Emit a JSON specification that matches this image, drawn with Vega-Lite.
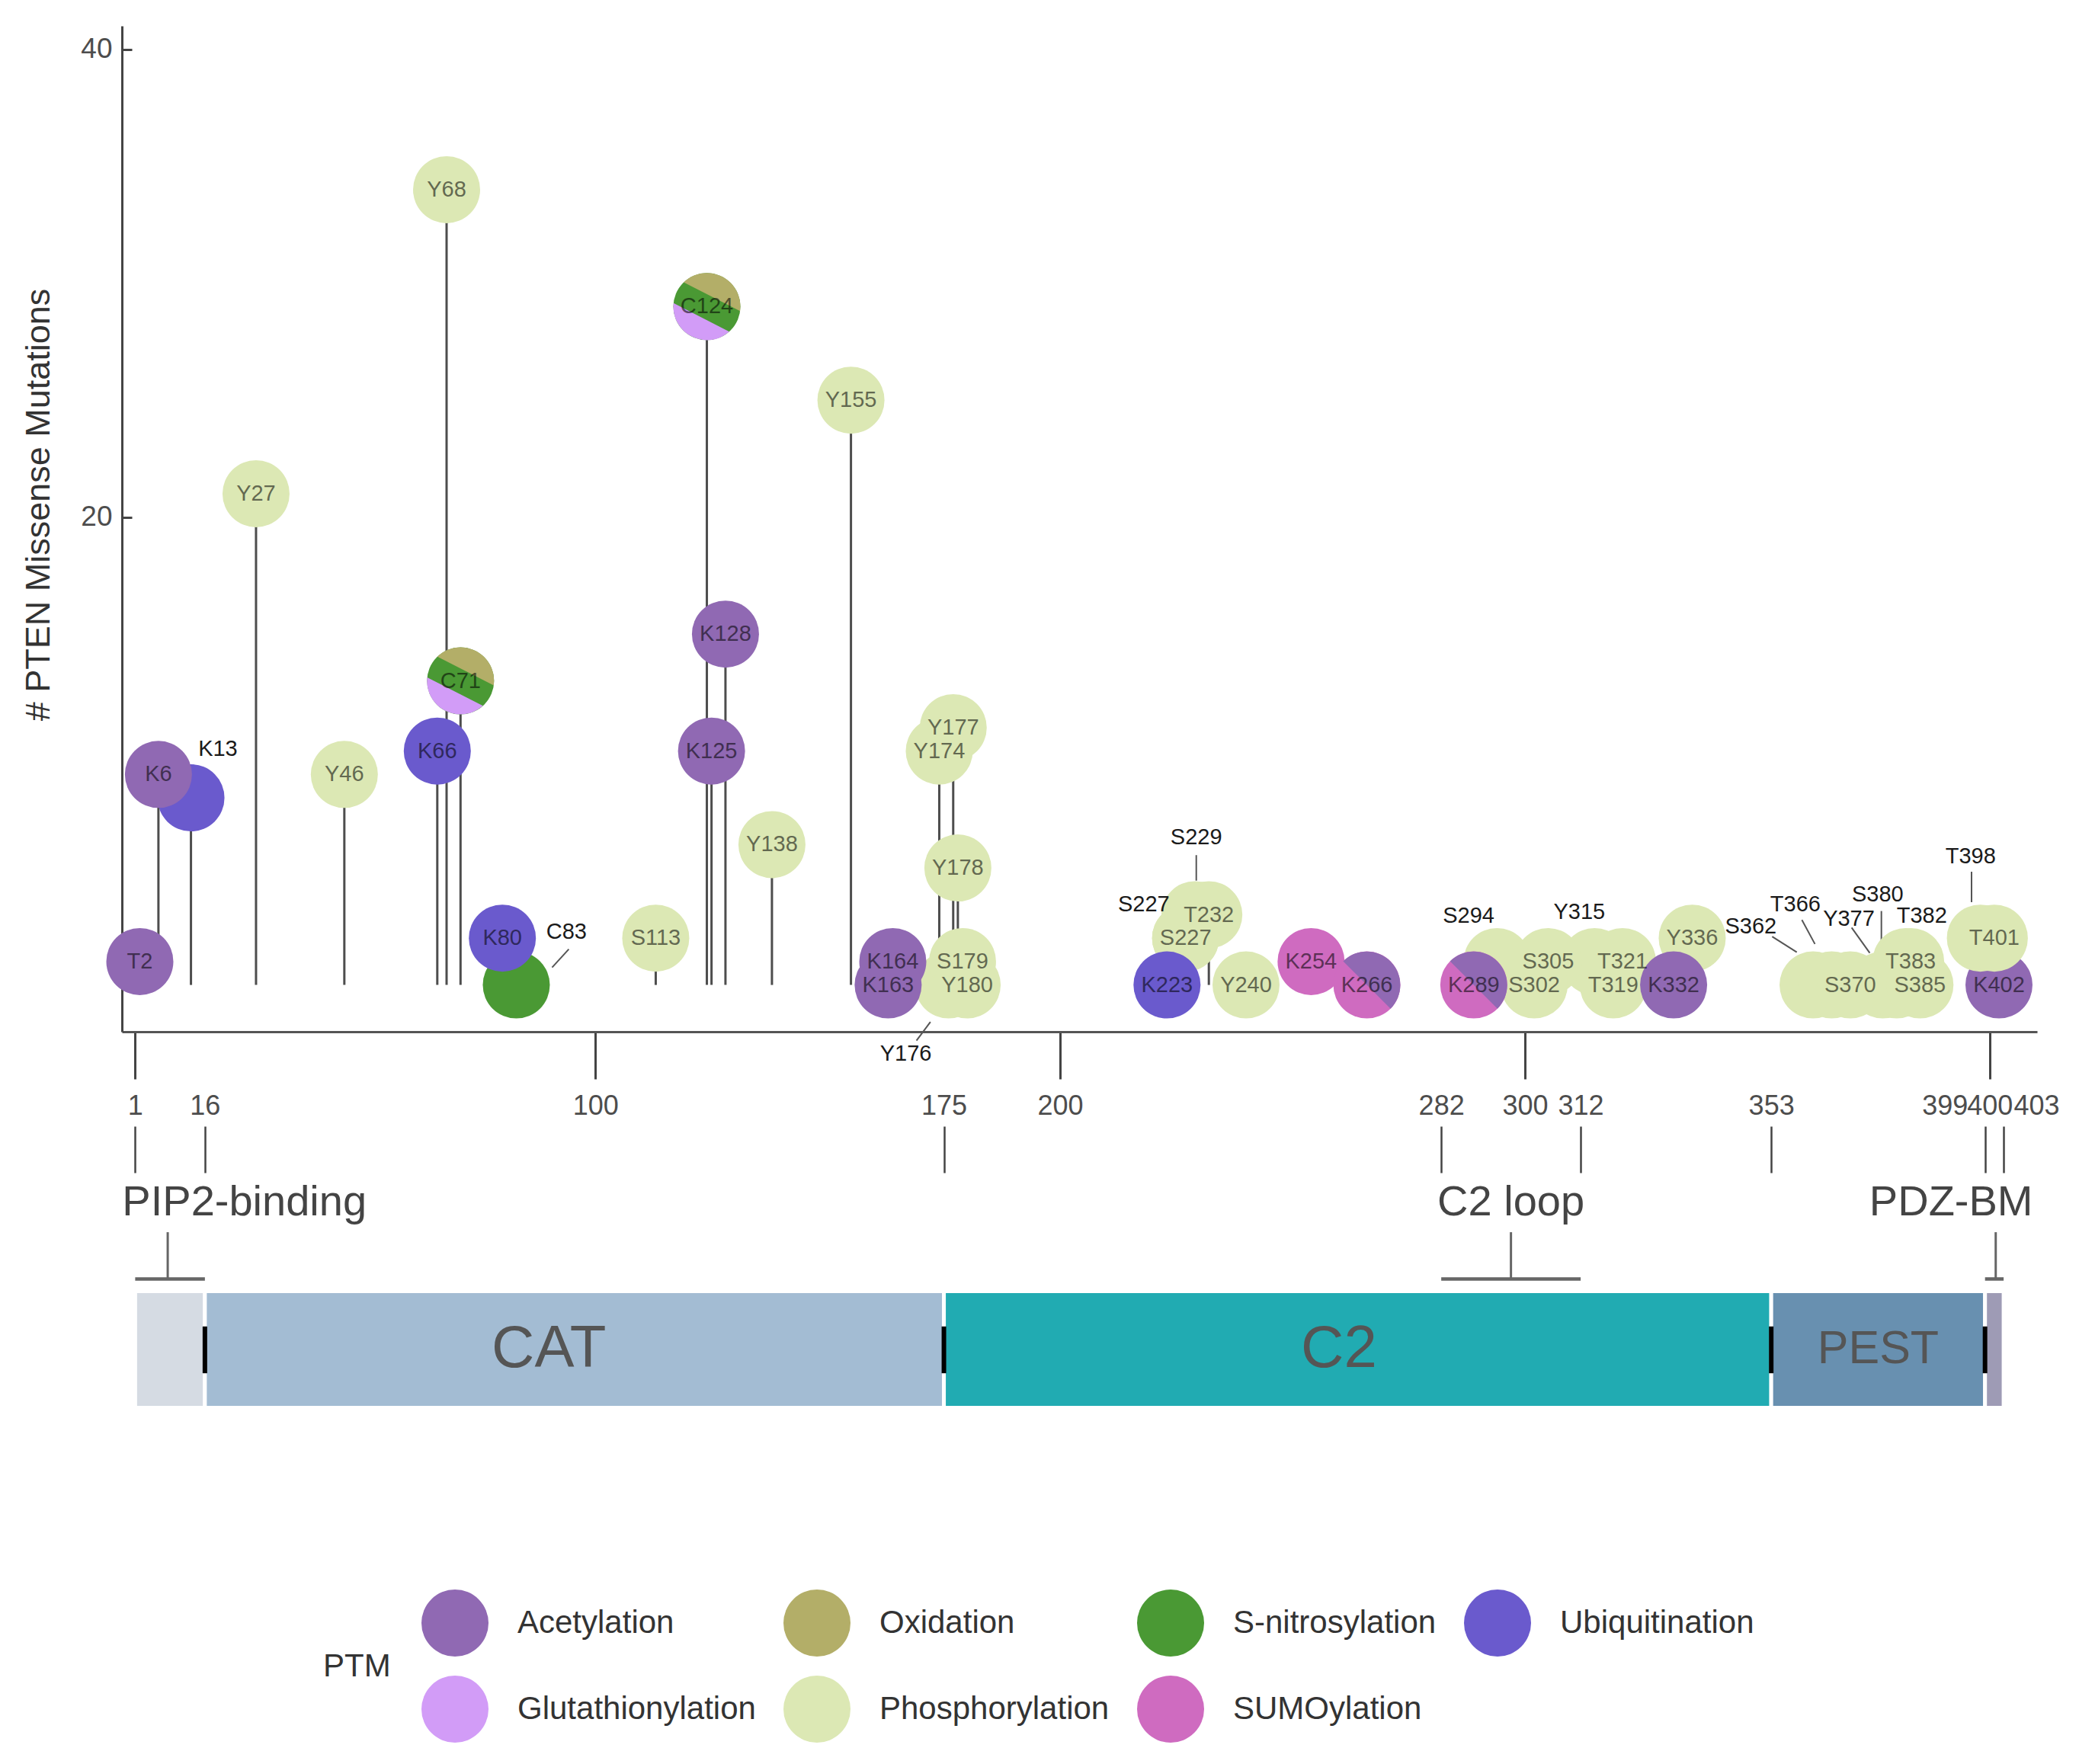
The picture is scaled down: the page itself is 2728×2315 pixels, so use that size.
{
  "$schema": "https://vega.github.io/schema/vega-lite/v6.json",
  "width": 2513,
  "height": 1320,
  "autosize": {"type": "none"},
  "padding": {"left": 160, "top": 34, "right": 55, "bottom": 961},
  "background": "white",
  "config": {"view": {"stroke": null}, "font": "Liberation Sans"},
  "datasets": {
    "sites": [
      {"site": "T321", "pos": 321, "n": 1, "ptm": "Phosphorylation", "part": "whole"},
      {"site": "T319", "pos": 319, "n": 0, "ptm": "Phosphorylation", "part": "whole"},
      {"site": "Y315", "pos": 315, "n": 1, "ptm": "Phosphorylation", "part": "whole"},
      {"site": "S305", "pos": 305, "n": 1, "ptm": "Phosphorylation", "part": "whole"},
      {"site": "S302", "pos": 302, "n": 0, "ptm": "Phosphorylation", "part": "whole"},
      {"site": "S294", "pos": 294, "n": 1, "ptm": "Phosphorylation", "part": "whole"},
      {"site": "K289", "pos": 289, "n": 0, "ptm": "SUMOylation", "part": "whole"},
      {"site": "K289", "pos": 289, "n": 0, "ptm": "Acetylation", "part": "half"},
      {"site": "Y336", "pos": 336, "n": 2, "ptm": "Phosphorylation", "part": "whole"},
      {"site": "K332", "pos": 332, "n": 0, "ptm": "Acetylation", "part": "whole"},
      {"site": "K254", "pos": 254, "n": 1, "ptm": "SUMOylation", "part": "whole"},
      {"site": "K266", "pos": 266, "n": 0, "ptm": "SUMOylation", "part": "whole"},
      {"site": "K266", "pos": 266, "n": 0, "ptm": "Acetylation", "part": "half"},
      {"site": "Y240", "pos": 240, "n": 0, "ptm": "Phosphorylation", "part": "whole"},
      {"site": "T232", "pos": 232, "n": 3, "ptm": "Phosphorylation", "part": "whole"},
      {"site": "S229", "pos": 229, "n": 3, "ptm": "Phosphorylation", "part": "whole"},
      {"site": "S227", "pos": 227, "n": 2, "ptm": "Phosphorylation", "part": "whole"},
      {"site": "S227", "pos": 227, "n": 2, "ptm": "Phosphorylation", "part": "whole"},
      {"site": "K223", "pos": 223, "n": 0, "ptm": "Ubiquitination", "part": "whole"},
      {"site": "S362", "pos": 362, "n": 0, "ptm": "Phosphorylation", "part": "whole"},
      {"site": "T366", "pos": 366, "n": 0, "ptm": "Phosphorylation", "part": "whole"},
      {"site": "S370", "pos": 370, "n": 0, "ptm": "Phosphorylation", "part": "whole"},
      {"site": "Y377", "pos": 377, "n": 0, "ptm": "Phosphorylation", "part": "whole"},
      {"site": "S380", "pos": 380, "n": 0, "ptm": "Phosphorylation", "part": "whole"},
      {"site": "T382", "pos": 382, "n": 1, "ptm": "Phosphorylation", "part": "whole"},
      {"site": "T383", "pos": 383, "n": 1, "ptm": "Phosphorylation", "part": "whole"},
      {"site": "S385", "pos": 385, "n": 0, "ptm": "Phosphorylation", "part": "whole"},
      {"site": "K402", "pos": 402, "n": 0, "ptm": "Acetylation", "part": "whole"},
      {"site": "T398", "pos": 398, "n": 2, "ptm": "Phosphorylation", "part": "whole"},
      {"site": "T401", "pos": 401, "n": 2, "ptm": "Phosphorylation", "part": "whole"},
      {"site": "Y27", "pos": 27, "n": 21, "ptm": "Phosphorylation", "part": "whole"},
      {"site": "Y46", "pos": 46, "n": 9, "ptm": "Phosphorylation", "part": "whole"},
      {"site": "Y68", "pos": 68, "n": 34, "ptm": "Phosphorylation", "part": "whole"},
      {"site": "K13", "pos": 13, "n": 8, "ptm": "Ubiquitination", "part": "whole"},
      {"site": "K6", "pos": 6, "n": 9, "ptm": "Acetylation", "part": "whole"},
      {"site": "T2", "pos": 2, "n": 1, "ptm": "Acetylation", "part": "whole"},
      {"site": "K66", "pos": 66, "n": 10, "ptm": "Ubiquitination", "part": "whole"},
      {"site": "C71", "pos": 71, "n": 13, "ptm": "S-nitrosylation", "part": "whole"},
      {"site": "C71", "pos": 71, "n": 13, "ptm": "Oxidation", "part": "capA"},
      {"site": "C71", "pos": 71, "n": 13, "ptm": "Glutathionylation", "part": "capB"},
      {"site": "C83", "pos": 83, "n": 0, "ptm": "S-nitrosylation", "part": "whole"},
      {"site": "K80", "pos": 80, "n": 2, "ptm": "Ubiquitination", "part": "whole"},
      {"site": "S113", "pos": 113, "n": 2, "ptm": "Phosphorylation", "part": "whole"},
      {"site": "C124", "pos": 124, "n": 29, "ptm": "S-nitrosylation", "part": "whole"},
      {"site": "C124", "pos": 124, "n": 29, "ptm": "Oxidation", "part": "capA"},
      {"site": "C124", "pos": 124, "n": 29, "ptm": "Glutathionylation", "part": "capB"},
      {"site": "K125", "pos": 125, "n": 10, "ptm": "Acetylation", "part": "whole"},
      {"site": "K128", "pos": 128, "n": 15, "ptm": "Acetylation", "part": "whole"},
      {"site": "Y138", "pos": 138, "n": 6, "ptm": "Phosphorylation", "part": "whole"},
      {"site": "Y155", "pos": 155, "n": 25, "ptm": "Phosphorylation", "part": "whole"},
      {"site": "Y176", "pos": 176, "n": 0, "ptm": "Phosphorylation", "part": "whole"},
      {"site": "S179", "pos": 179, "n": 1, "ptm": "Phosphorylation", "part": "whole"},
      {"site": "Y180", "pos": 180, "n": 0, "ptm": "Phosphorylation", "part": "whole"},
      {"site": "Y178", "pos": 178, "n": 5, "ptm": "Phosphorylation", "part": "whole"},
      {"site": "Y177", "pos": 177, "n": 11, "ptm": "Phosphorylation", "part": "whole"},
      {"site": "Y174", "pos": 174, "n": 10, "ptm": "Phosphorylation", "part": "whole"},
      {"site": "K164", "pos": 164, "n": 1, "ptm": "Acetylation", "part": "whole"},
      {"site": "K163", "pos": 163, "n": 0, "ptm": "Acetylation", "part": "whole"}
    ],
    "labels": [
      {"label": "T2", "lx": 2, "ly": 1, "kind": "in"},
      {"label": "K6", "lx": 6, "ly": 9, "kind": "in"},
      {"label": "Y27", "lx": 27, "ly": 21, "kind": "in"},
      {"label": "Y46", "lx": 46, "ly": 9, "kind": "in"},
      {"label": "K66", "lx": 66, "ly": 10, "kind": "in"},
      {"label": "Y68", "lx": 68, "ly": 34, "kind": "in"},
      {"label": "C71", "lx": 71, "ly": 13, "kind": "in"},
      {"label": "K80", "lx": 80, "ly": 2, "kind": "in"},
      {"label": "S113", "lx": 113, "ly": 2, "kind": "in"},
      {"label": "C124", "lx": 124, "ly": 29, "kind": "in"},
      {"label": "K125", "lx": 125, "ly": 10, "kind": "in"},
      {"label": "K128", "lx": 128, "ly": 15, "kind": "in"},
      {"label": "Y138", "lx": 138, "ly": 6, "kind": "in"},
      {"label": "Y155", "lx": 155, "ly": 25, "kind": "in"},
      {"label": "K163", "lx": 163, "ly": 0, "kind": "in"},
      {"label": "K164", "lx": 164, "ly": 1, "kind": "in"},
      {"label": "Y174", "lx": 174, "ly": 10, "kind": "in"},
      {"label": "Y177", "lx": 177, "ly": 11, "kind": "in"},
      {"label": "Y178", "lx": 178, "ly": 5, "kind": "in"},
      {"label": "S179", "lx": 179, "ly": 1, "kind": "in"},
      {"label": "Y180", "lx": 180, "ly": 0, "kind": "in"},
      {"label": "K223", "lx": 223, "ly": 0, "kind": "in"},
      {"label": "S227", "lx": 227, "ly": 2, "kind": "in"},
      {"label": "T232", "lx": 232, "ly": 3, "kind": "in"},
      {"label": "Y240", "lx": 240, "ly": 0, "kind": "in"},
      {"label": "K254", "lx": 254, "ly": 1, "kind": "in"},
      {"label": "K266", "lx": 266, "ly": 0, "kind": "in"},
      {"label": "K289", "lx": 289, "ly": 0, "kind": "in"},
      {"label": "S302", "lx": 302, "ly": 0, "kind": "in"},
      {"label": "S305", "lx": 305, "ly": 1, "kind": "in"},
      {"label": "T319", "lx": 319, "ly": 0, "kind": "in"},
      {"label": "T321", "lx": 321, "ly": 1, "kind": "in"},
      {"label": "K332", "lx": 332, "ly": 0, "kind": "in"},
      {"label": "Y336", "lx": 336, "ly": 2, "kind": "in"},
      {"label": "S370", "lx": 370, "ly": 0, "kind": "in"},
      {"label": "T383", "lx": 383, "ly": 1, "kind": "in"},
      {"label": "S385", "lx": 385, "ly": 0, "kind": "in"},
      {"label": "T401", "lx": 401, "ly": 2, "kind": "in"},
      {"label": "K402", "lx": 402, "ly": 0, "kind": "in"},
      {"label": "K13", "lx": 18.8, "ly": 10.1, "kind": "out"},
      {"label": "C83", "lx": 93.8, "ly": 2.26, "kind": "out"},
      {"label": "Y176", "lx": 166.8, "ly": -2.96, "kind": "out"},
      {"label": "S229", "lx": 229.3, "ly": 6.31, "kind": "out"},
      {"label": "S227", "lx": 218.0, "ly": 3.43, "kind": "out"},
      {"label": "S294", "lx": 287.9, "ly": 2.94, "kind": "out"},
      {"label": "Y315", "lx": 311.7, "ly": 3.1, "kind": "out"},
      {"label": "S362", "lx": 348.6, "ly": 2.51, "kind": "out"},
      {"label": "T366", "lx": 358.2, "ly": 3.43, "kind": "out"},
      {"label": "Y377", "lx": 369.7, "ly": 2.83, "kind": "out"},
      {"label": "S380", "lx": 375.9, "ly": 3.87, "kind": "out"},
      {"label": "T382", "lx": 385.4, "ly": 2.94, "kind": "out"},
      {"label": "T398", "lx": 395.9, "ly": 5.5, "kind": "out"}
    ],
    "segs": [
      {"x": 94.3, "y": 1.53, "x2": 90.7, "y2": 0.75},
      {"x": 172.1, "y": -1.58, "x2": 169.1, "y2": -2.38},
      {"x": 229.3, "y": 5.55, "x2": 229.3, "y2": 4.46},
      {"x": 353.2, "y": 2.07, "x2": 358.5, "y2": 1.4},
      {"x": 359.6, "y": 2.78, "x2": 362.4, "y2": 1.75},
      {"x": 370.3, "y": 2.45, "x2": 374.2, "y2": 1.37},
      {"x": 376.7, "y": 3.16, "x2": 376.7, "y2": 1.91},
      {"x": 396.1, "y": 4.84, "x2": 396.1, "y2": 3.54}
    ],
    "domains": [
      {"name": "PIP2", "start": 1, "end": 16},
      {"name": "CAT", "start": 16, "end": 175},
      {"name": "C2", "start": 175, "end": 353},
      {"name": "PEST", "start": 353, "end": 399},
      {"name": "PDZ", "start": 399, "end": 403}
    ],
    "domlabels": [
      {"name": "CAT", "lx": 90},
      {"name": "C2", "lx": 260},
      {"name": "PEST", "lx": 376}
    ],
    "bounds": [{"b": 16}, {"b": 175}, {"b": 353}, {"b": 399}],
    "regions": [
      {"name": "PIP2-binding", "start": 1, "end": 16, "mid": 8, "lx": 24.5},
      {"name": "C2 loop", "start": 282, "end": 312, "mid": 297, "lx": 297},
      {"name": "PDZ-BM", "start": 399, "end": 403, "mid": 401.3, "lx": 391.7}
    ]
  },
  "resolve": {"axis": {"x": "independent", "y": "independent"}},
  "layer": [
    {
      "data": {"name": "sites"},
      "transform": [{"filter": "datum.part == 'whole' && datum.n > 0"}],
      "mark": {"type": "rule", "color": "#4d4d4d", "strokeWidth": 3},
      "encoding": {
        "x": {"field": "pos", "type": "quantitative", "scale": {"domain": [-1.85, 410.2], "nice": false, "zero": false},
          "axis": {"orient": "bottom", "values": [1, 100, 200, 300, 400], "labels": false, "title": null, "grid": false, "tickSize": 62, "tickWidth": 3, "tickColor": "#444", "domainColor": "#555", "domainWidth": 3}},
        "y": {"field": "n", "type": "quantitative", "scale": {"domain": [-2, 41], "nice": false, "zero": false},
          "axis": {"orient": "left", "values": [20, 40], "title": "# PTEN Missense Mutations", "titleFontSize": 45, "titleFontWeight": "normal", "titleColor": "#333", "titlePadding": 32, "titleY": 628, "labelFontSize": 37, "labelColor": "#4d4d4d", "labelPadding": 26, "tickSize": -13, "tickWidth": 3, "tickColor": "#444", "domainColor": "#444", "domainWidth": 3, "grid": false}},
        "y2": {"datum": 0}
      }
    },
    {
      "data": {"name": "domains"},
      "mark": {"type": "rect", "stroke": "white", "strokeWidth": 5},
      "encoding": {
        "x": {"field": "start", "type": "quantitative", "scale": {"domain": [-1.85, 410.2], "nice": false, "zero": false},
          "axis": {"orient": "top", "offset": -1505, "values": [1, 16, 100, 175, 200, 282, 300, 312, 353, 399, 400, 403], "domain": false, "grid": false, "title": null, "tickSize": 61, "tickWidth": 2.5, "tickColor": "#444",
            "tickOpacity": {"condition": {"test": "indexof([1,16,175,282,312,353,399,403], datum.value) >= 0", "value": 1}, "value": 0},
            "labelFontSize": 36, "labelColor": "#4d4d4d", "labelPadding": 8, "labelOverlap": false, "labelFlush": false, "labelBound": false,
            "labelOffset": {"condition": [{"test": "datum.value == 399", "value": -53}, {"test": "datum.value == 403", "value": 43}], "value": 0}}},
        "x2": {"field": "end"},
        "y": {"datum": -13.09, "type": "quantitative", "scale": {"domain": [-2, 41], "nice": false, "zero": false}, "axis": null},
        "y2": {"datum": -18.08},
        "fill": {"field": "name", "type": "nominal", "scale": {"domain": ["PIP2", "CAT", "C2", "PEST", "PDZ"], "range": ["#D5DBE3", "#A3BCD3", "#21ABB2", "#6890B0", "#9E9BB5"]}, "legend": null}
      }
    },
    {
      "data": {"name": "bounds"},
      "mark": {"type": "rule", "color": "black", "strokeWidth": 6},
      "encoding": {
        "x": {"field": "b", "type": "quantitative", "scale": {"domain": [-1.85, 410.2], "nice": false, "zero": false}, "axis": null},
        "y": {"datum": -14.6, "type": "quantitative", "scale": {"domain": [-2, 41], "nice": false, "zero": false}, "axis": null},
        "y2": {"datum": -16.6}
      }
    },
    {
      "data": {"name": "regions"},
      "mark": {"type": "rule", "color": "#666", "strokeWidth": 3},
      "encoding": {
        "x": {"field": "mid", "type": "quantitative", "scale": {"domain": [-1.85, 410.2], "nice": false, "zero": false}, "axis": null},
        "y": {"datum": -10.57, "type": "quantitative", "scale": {"domain": [-2, 41], "nice": false, "zero": false}, "axis": null},
        "y2": {"datum": -12.57}
      }
    },
    {
      "data": {"name": "regions"},
      "mark": {"type": "rule", "color": "#666", "strokeWidth": 4.5},
      "encoding": {
        "x": {"field": "start", "type": "quantitative", "scale": {"domain": [-1.85, 410.2], "nice": false, "zero": false}, "axis": null},
        "x2": {"field": "end"},
        "y": {"datum": -12.57, "type": "quantitative", "scale": {"domain": [-2, 41], "nice": false, "zero": false}, "axis": null}
      }
    },
    {
      "data": {"name": "regions"},
      "mark": {"type": "text", "fontSize": 56, "color": "#444", "align": "center", "baseline": "middle"},
      "encoding": {
        "x": {"field": "lx", "type": "quantitative", "scale": {"domain": [-1.85, 410.2], "nice": false, "zero": false}, "axis": null},
        "y": {"datum": -9.3, "type": "quantitative", "scale": {"domain": [-2, 41], "nice": false, "zero": false}, "axis": null},
        "text": {"field": "name"}
      }
    },
    {
      "data": {"name": "domlabels"},
      "mark": {"type": "text", "color": "#555", "align": "center", "baseline": "middle"},
      "encoding": {
        "x": {"field": "lx", "type": "quantitative", "scale": {"domain": [-1.85, 410.2], "nice": false, "zero": false}, "axis": null},
        "y": {"datum": -15.6, "type": "quantitative", "scale": {"domain": [-2, 41], "nice": false, "zero": false}, "axis": null},
        "text": {"field": "name"},
        "size": {"condition": {"test": "datum.name == 'PEST'", "value": 61}, "value": 78}
      }
    },
    {
      "data": {"name": "segs"},
      "mark": {"type": "rule", "color": "#555", "strokeWidth": 2},
      "encoding": {
        "x": {"field": "x", "type": "quantitative", "scale": {"domain": [-1.85, 410.2], "nice": false, "zero": false}, "axis": null},
        "x2": {"field": "x2"},
        "y": {"field": "y", "type": "quantitative", "scale": {"domain": [-2, 41], "nice": false, "zero": false}, "axis": null},
        "y2": {"field": "y2"}
      }
    },
    {
      "data": {"name": "sites"},
      "mark": {"type": "point", "filled": true, "size": 7744, "opacity": 1, "strokeWidth": 0},
      "encoding": {
        "x": {"field": "pos", "type": "quantitative", "scale": {"domain": [-1.85, 410.2], "nice": false, "zero": false}, "axis": null},
        "y": {"field": "n", "type": "quantitative", "scale": {"domain": [-2, 41], "nice": false, "zero": false}, "axis": null},
        "color": {"field": "ptm", "type": "nominal",
          "scale": {"domain": ["Acetylation", "Oxidation", "S-nitrosylation", "Ubiquitination", "Glutathionylation", "Phosphorylation", "SUMOylation"],
                    "range": ["#9069B3", "#B3AE68", "#4A9934", "#6A5ACD", "#D29CF7", "#DCE8B4", "#CF6BC0"]},
          "legend": {"title": "PTM", "orient": "none", "legendX": 264, "legendY": 2052, "columns": 4, "direction": "horizontal",
            "titleOrient": "left", "titleFontSize": 42, "titleFontWeight": "normal", "titleColor": "#333", "titleAnchor": "middle", "titleBaseline": "middle", "titlePadding": 40,
            "labelFontSize": 42, "labelColor": "#333", "labelOffset": 38, "labelLimit": 1000,
            "symbolSize": 7744, "symbolType": "circle", "symbolStrokeWidth": 0, "symbolOpacity": 1,
            "columnPadding": 36, "rowPadding": 25, "padding": 0}},
        "shape": {"field": "part", "type": "nominal",
          "scale": {"domain": ["whole", "half", "capA", "capB"],
                    "range": ["circle", "M -0.7071 -0.7071 A 1 1 0 0 1 0.7071 0.7071 Z", "M -0.691 -0.724 A 1 1 0 0 1 0.991 0.136 Z", "M 0.667 0.745 A 1 1 0 0 1 -0.995 -0.103 Z"]},
          "legend": null}
      }
    },
    {
      "data": {"name": "labels"},
      "mark": {"type": "text", "fontSize": 29, "align": "center", "baseline": "middle"},
      "encoding": {
        "x": {"field": "lx", "type": "quantitative", "scale": {"domain": [-1.85, 410.2], "nice": false, "zero": false}, "axis": null},
        "y": {"field": "ly", "type": "quantitative", "scale": {"domain": [-2, 41], "nice": false, "zero": false}, "axis": null},
        "text": {"field": "label"},
        "color": {"condition": {"test": "datum.kind == 'in'", "value": "#000000"}, "value": "#1a1a1a"},
        "opacity": {"condition": {"test": "datum.kind == 'in'", "value": 0.55}, "value": 1}
      }
    }
  ]
}
